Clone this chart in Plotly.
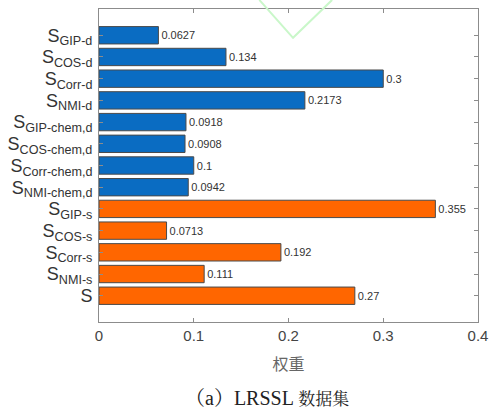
import plotly.graph_objects as go

labels = [
    "S<sub>GIP-d</sub>", "S<sub>COS-d</sub>", "S<sub>Corr-d</sub>", "S<sub>NMI-d</sub>",
    "S<sub>GIP-chem,d</sub>", "S<sub>COS-chem,d</sub>", "S<sub>Corr-chem,d</sub>", "S<sub>NMI-chem,d</sub>",
    "S<sub>GIP-s</sub>", "S<sub>COS-s</sub>", "S<sub>Corr-s</sub>", "S<sub>NMI-s</sub>", "S",
]
values = [0.0627, 0.134, 0.3, 0.2173, 0.0918, 0.0908, 0.1, 0.0942, 0.355, 0.0713, 0.192, 0.111, 0.27]
value_text = ["0.0627", "0.134", "0.3", "0.2173", "0.0918", "0.0908", "0.1", "0.0942",
              "0.355", "0.0713", "0.192", "0.111", "0.27"]
groups = ["d"] * 8 + ["s"] * 5
color_map = {"d": "#0a6cc2", "s": "#ff6600"}
x_ticks = [0, 0.1, 0.2, 0.3, 0.4]
x_tick_text = ["0", "0.1", "0.2", "0.3", "0.4"]

fig = go.Figure()
fig.add_trace(go.Bar(
    y=labels, x=values, orientation="h",
    marker=dict(color=[color_map[g] for g in groups], line=dict(color="#4a4a4a", width=1)),
    width=0.8,
    text=value_text, textposition="outside",
    textfont=dict(family="Liberation Sans, Arial", size=11, color="#333333"),
    cliponaxis=False,
))

axis_col = "#8c8c8c"
fig.update_layout(
    width=489, height=412,
    margin=dict(l=99, r=11, t=9, b=90, autoexpand=False),
    paper_bgcolor="white", plot_bgcolor="white",
    showlegend=False,
    bargap=0.2,
    font=dict(family="Liberation Sans, Arial", color="#333333"),
)
fig.update_xaxes(
    range=[0, 0.4], tickvals=x_ticks, ticktext=x_tick_text, automargin=False,
    showline=True, linecolor=axis_col, linewidth=1, mirror="ticks",
    ticks="inside", ticklen=4, tickcolor=axis_col, showgrid=False, zeroline=False,
    tickfont=dict(size=15, color="#444444", family="Liberation Sans, Arial"),
    title=dict(text="权重", font=dict(size=16, color="#666666", family="Noto Sans CJK SC"), standoff=15),
)
fig.update_yaxes(
    range=[12 + 1.21, -1.21], automargin=False,
    tickmode="array", tickvals=labels, ticktext=labels,
    showline=True, linecolor=axis_col, linewidth=1, mirror="ticks",
    ticks="inside", ticklen=4, tickcolor=axis_col, showgrid=False, zeroline=False,
    tickfont=dict(size=18, color="#333333", family="Liberation Sans, Arial"),
    ticklabelstandoff=2,
)

# caption
fig.add_annotation(
    text="（a）LRSSL <span style='font-size:17px'>数据集</span>",
    xref="paper", yref="paper", x=0.5, y=0, yshift=-76, xshift=-22,
    xanchor="center", yanchor="middle", showarrow=False,
    font=dict(size=20, color="#222222", family="Liberation Serif, Noto Serif CJK SC, Noto Sans CJK SC"),
)
# faint watermark stroke
fig.add_shape(
    type="path", xref="paper", yref="paper",
    path="M 0.423 1.029 L 0.512 0.908 L 0.615 1.029",
    line=dict(color="#c9f7c9", width=2), layer="above",
)

fig.write_html("out.html")
